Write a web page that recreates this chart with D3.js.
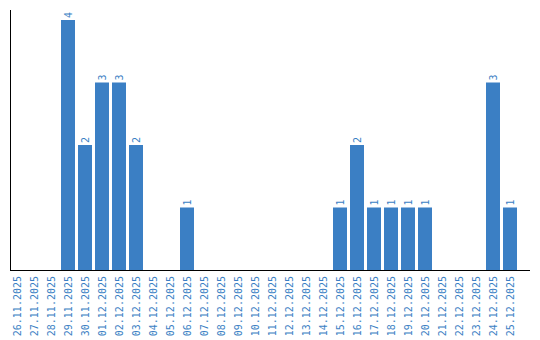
<!DOCTYPE html>
<html>
<head>
<meta charset="utf-8">
<script src="https://cdn.jsdelivr.net/npm/d3@7"></script>
<style>
  body { margin: 0; background: #fff; }
  svg text { font-family: "DejaVu Sans Mono", monospace; }
</style>
</head>
<body>
<div id="chart"></div>
<script>
// day labels
const days = [
  "26.11.2025", "27.11.2025", "28.11.2025", "29.11.2025", "30.11.2025",
  "01.12.2025", "02.12.2025", "03.12.2025", "04.12.2025", "05.12.2025",
  "06.12.2025", "07.12.2025", "08.12.2025", "09.12.2025", "10.12.2025",
  "11.12.2025", "12.12.2025", "13.12.2025", "14.12.2025", "15.12.2025",
  "16.12.2025", "17.12.2025", "18.12.2025", "19.12.2025", "20.12.2025",
  "21.12.2025", "22.12.2025", "23.12.2025", "24.12.2025", "25.12.2025"
];

// counts per day
const counts = [
  0, 0, 0, 4, 2,
  3, 3, 2, 0, 0,
  1, 0, 0, 0, 0,
  0, 0, 0, 0, 1,
  2, 1, 1, 1, 1,
  0, 0, 0, 3, 1
];

const width = 540, height = 340;
const barColor = "#3b7fc4";

const svg = d3.select("#chart").append("svg")
  .attr("width", width)
  .attr("height", height);

// scales
const xScale = d3.scaleBand()
  .domain(days)
  .range([10, 517])
  .paddingInner(3 / 17)
  .paddingOuter(0);

const yScale = d3.scaleLinear()
  .domain([0, 4])
  .range([270, 20]);

// bars
svg.selectAll(".bar")
  .data(counts)
  .enter()
  .append("rect")
  .attr("class", "bar")
  .attr("x", (d, i) => xScale(days[i]))
  .attr("y", d => yScale(d))
  .attr("width", xScale.bandwidth())
  .attr("height", d => yScale(0) - yScale(d))
  .attr("fill", barColor);

// value labels above bars
svg.selectAll(".val")
  .data(counts.map((v, i) => ({ v, day: days[i] })).filter(d => d.v > 0))
  .enter()
  .append("text")
  .attr("class", "val")
  .attr("transform", d => "translate(" + (xScale(d.day) + xScale.bandwidth() / 2 + 3.5) + "," + (yScale(d.v) - 2) + ") rotate(-90)")
  .attr("font-size", "10px")
  .attr("fill", barColor)
  .text(d => d.v);

// x axis with rotated day labels
const xAxis = svg.append("g")
  .attr("transform", "translate(0,270)")
  .call(d3.axisBottom(xScale).tickSize(0).tickPadding(0));

xAxis.select(".domain").remove();

xAxis.selectAll("text")
  .attr("transform", "translate(3.5,6) rotate(-90)")
  .attr("x", 0)
  .attr("y", 0)
  .attr("dy", 0)
  .attr("text-anchor", "end")
  .attr("font-size", "10px")
  .attr("font-family", "DejaVu Sans Mono, monospace")
  .attr("fill", barColor);

// axis lines
svg.append("line")
  .attr("x1", 10.5).attr("x2", 10.5)
  .attr("y1", 10).attr("y2", 271)
  .attr("stroke", "#000")
  .attr("stroke-width", 1);

svg.append("line")
  .attr("x1", 10).attr("x2", 530)
  .attr("y1", 270.5).attr("y2", 270.5)
  .attr("stroke", "#000")
  .attr("stroke-width", 1);
</script>
</body>
</html>
